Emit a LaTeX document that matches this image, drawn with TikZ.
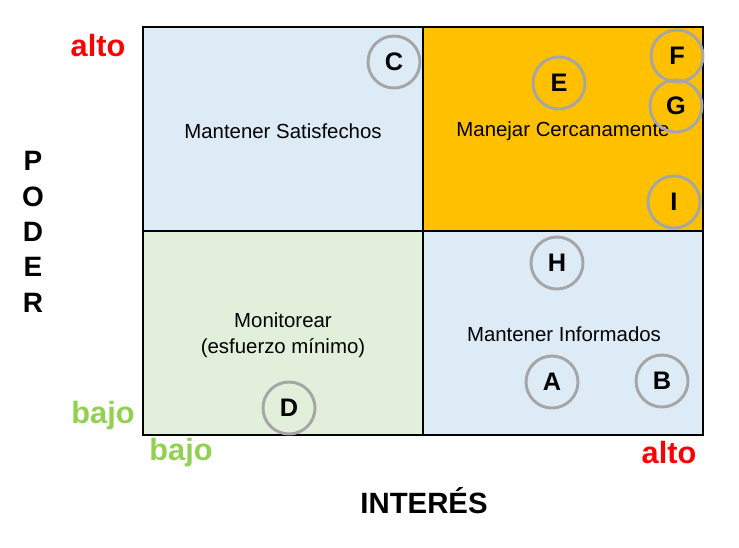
\documentclass[tikz,border=0pt]{standalone}
\usepackage{fontspec}
\setmainfont{Liberation Sans}
\definecolor{quadblue}{HTML}{DDEBF7}
\definecolor{quadgreen}{HTML}{E2EFDA}
\definecolor{quadorange}{HTML}{FFC000}
\definecolor{ring}{HTML}{A6A6A6}
\definecolor{high}{HTML}{FF0000}
\definecolor{low}{HTML}{92D050}
\tikzset{
  quad/.style={draw=black, line width=0.8pt},
  stake/.style={circle, draw=ring, line width=2.2pt, minimum size=39pt, inner sep=0pt, font=\bfseries\fontsize{19}{19}\selectfont},
  qlbl/.style={font=\fontsize{15.3}{19.5}\selectfont, align=center},
  hi/.style={text=high, font=\bfseries\fontsize{23}{23}\selectfont},
  lo/.style={text=low, font=\bfseries\fontsize{23}{23}\selectfont},
  axis/.style={font=\bfseries\fontsize{22}{22}\selectfont},
  vaxis/.style={font=\bfseries\fontsize{21}{21}\selectfont}
}
\begin{document}
\begin{tikzpicture}[x=0.75pt, y=-0.75pt]
  \useasboundingbox (0,0) rectangle (739,547);

  \coordinate (TL) at (143,27);
  \coordinate (M) at (423,231);
  \coordinate (BR) at (703,435);

  % quadrants
  \fill[quadblue] (TL) rectangle (M);
  \fill[quadorange] (423,27) rectangle (703,231);
  \fill[quadgreen] (143,231) rectangle (423,435);
  \fill[quadblue] (M) rectangle (BR);
  \draw[quad] (TL) rectangle (BR);
  \draw[quad] (423,27) -- (423,435);
  \draw[quad] (143,231) -- (703,231);

  \node[qlbl] (satis) at (283,131) {Mantener Satisfechos};
  \node[qlbl] (cerca) at (563,131) {Manejar Cercanamente};
  \node[qlbl] (monit) at (283,335) {Monitorear\\(esfuerzo mínimo)};
  \node[qlbl] (infor) at (564,334) {Mantener Informados};

  % stakeholders
  \node[stake] (sA) at (552,382) {A};
  \node[stake] (sB) at (662,381) {B};
  \node[stake] (sC) at (394,62) {C};
  \node[stake] (sD) at (289,408) {D};
  \node[stake] (sE) at (559,83) {E};
  \node[stake] (sF) at (677,56) {F};
  \node[stake] (sG) at (676,106) {G};
  \node[stake] (sH) at (557,263) {H};
  \node[stake] (sI) at (674,202) {I};

  % axes
  \node[hi] (yhi) at (98,46) {alto};
  \node[lo] (ylo) at (103,416) {bajo};
  \node[lo] (xlo) at (181,453) {bajo};
  \node[hi] (xhi) at (669,453) {alto};
  \node[axis] (xname) at (424,501) {INTERÉS};
  \node[vaxis, align=center] (yname) at (33,232) {P\\[5.5pt]O\\[5.5pt]D\\[5.5pt]E\\[5.5pt]R};
\end{tikzpicture}
\end{document}
